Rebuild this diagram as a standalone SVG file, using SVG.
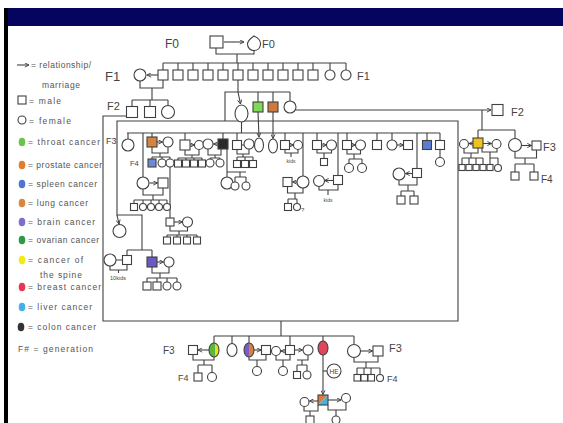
<svg xmlns="http://www.w3.org/2000/svg" width="563" height="423" viewBox="0 0 563 423">
<defs>
<style>
.ln{fill:none;stroke:#404040;stroke-width:1.1}
.ar{fill:none;stroke:#404040;stroke-width:1.1;marker-end:url(#ah)}
.p{fill:#fff;stroke:#404040;stroke-width:1.1}
.t{font-family:"Liberation Sans",Arial,sans-serif;fill:#444}
.lb{font-size:11px}
.lg{font-size:8.5px;fill:#555}
.sm{font-size:5px}
</style>
<marker id="ah" viewBox="0 0 6 6" refX="5.5" refY="3" markerWidth="5" markerHeight="5" orient="auto" markerUnits="userSpaceOnUse"><path d="M0.5,0.5 L5.5,3 L0.5,5.5" fill="none" stroke="#404040" stroke-width="1.1"/></marker>
<linearGradient id="gy" x1="0" x2="1" y1="0" y2="0"><stop offset="0.6" stop-color="#5cb83a"/><stop offset="0.6" stop-color="#e6e01e"/></linearGradient>
<linearGradient id="po" x1="0" x2="1" y1="0" y2="0"><stop offset="0.5" stop-color="#7b5cc0"/><stop offset="0.5" stop-color="#d88040"/></linearGradient>
</defs>
<rect width="563" height="423" fill="#fff"/>
<rect x="5" y="8" width="558" height="18" fill="#050560"/>
<rect x="4" y="8" width="4" height="415" fill="#000"/>

<g id="legend" class="t lg">
<path class="ar" d="M17,65 H29"/>
<text x="31" y="68" textLength="60">= relationship/</text>
<text x="42" y="88" textLength="38">marriage</text>
<rect class="p" x="18" y="96" width="8" height="8"/><text x="29" y="104" textLength="32">= male</text>
<circle class="p" cx="22" cy="120" r="4"/><text x="29" y="124" textLength="42">= female</text>
<ellipse cx="22" cy="142" rx="3.3" ry="4.3" fill="#6cc24a"/><text x="28" y="145" textLength="72">= throat cancer</text>
<ellipse cx="22" cy="165" rx="3.3" ry="4.3" fill="#e07c2e"/><text x="28" y="168" textLength="74">= prostate cancer</text>
<ellipse cx="22" cy="184" rx="3.3" ry="4.3" fill="#4d74d6"/><text x="28" y="187" textLength="69">= spleen cancer</text>
<ellipse cx="22" cy="203" rx="3.3" ry="4.3" fill="#d9853f"/><text x="28" y="206" textLength="60">= lung cancer</text>
<ellipse cx="22" cy="222" rx="3.3" ry="4.3" fill="#7a6ed0"/><text x="28" y="225" textLength="67">= brain cancer</text>
<ellipse cx="22" cy="240" rx="3.3" ry="4.3" fill="#2e9a48"/><text x="28" y="243" textLength="71">= ovarian cancer</text>
<ellipse cx="22" cy="260" rx="3.3" ry="4.3" fill="#f2ea12"/><text x="28" y="263" textLength="55">= cancer of</text>
<text x="40" y="278" textLength="42">the spine</text>
<ellipse cx="22" cy="287" rx="3.3" ry="4.3" fill="#e63950"/><text x="28" y="290" textLength="73">= breast cancer</text>
<ellipse cx="22" cy="307" rx="3.3" ry="4.3" fill="#45b0ea"/><text x="28" y="310" textLength="64">= liver cancer</text>
<ellipse cx="21" cy="327" rx="3.3" ry="4.3" fill="#333"/><text x="28" y="330" textLength="68">= colon cancer</text>
<text x="18" y="352" textLength="75">F# = generation</text>
</g>

<g id="labels" class="t lb">
<text x="165" y="48" font-size="12">F0</text>
<text x="262" y="48">F0</text>
<text x="105" y="81" font-size="13">F1</text>
<text x="357" y="80">F1</text>
<text x="107" y="110">F2</text>
<text x="511" y="116">F2</text>
<text x="106" y="144" font-size="9">F3</text>
<text x="130" y="166" font-size="7.5">F4</text>
<text x="543" y="151">F3</text>
<text x="541" y="183" font-size="10">F4</text>
<text x="163" y="354" font-size="10">F3</text>
<text x="178" y="381" font-size="9">F4</text>
<text x="389" y="352">F3</text>
<text x="387" y="382" font-size="9">F4</text>
<text x="291" y="163" class="sm" text-anchor="middle">kids</text>
<text x="328" y="202" class="sm" text-anchor="middle">kids</text>
<text x="118" y="280" font-size="5.5" text-anchor="middle">10kids</text>
<text x="301" y="212" font-size="6">?</text>
</g>

<g id="connectors">
<path class="ar" d="M224,42 H244"/>
<path class="ln" d="M216,48 V54 H254 V50 M237,54 V63 M163,63 H346 M163,63V70 M178,63V70 M193,63V70 M208,63V70 M223,63V70 M238,63V70 M253,63V70 M268,63V70 M283,63V70 M298,63V70 M313,63V70 M330,63V70 M346,63V70"/>
<path class="ar" d="M158,75 H147"/>
<path class="ln" d="M140,81 V88 H163 V80 M152,88 V100 M132,100 H168 M132,100 V106.5 M150,100 V106.5 M168,100 V105.5"/>
<path class="ln" d="M126.5,116 H103 V321 H458 V121 H117 V215 H142 V250 M225,121 V92 H290 M238,80 V92 M258,92 V102 M273,92 V102 M290,92 V101 M127,250 H152 M127,250 V255.5 M152,250 V257"/>
<path class="ar" d="M238,92 L240.5,104"/>
<path class="ar" d="M117,215 L119,224"/>
<path class="ln" d="M241.5,122 V133 M127,133 H440 M128,133V139 M143,133V177 M152,133V137 M185,133V140 M223,133V139 M237,133V140.5 M285,133V140.5 M303,133V176 M317,133V140.5 M338,133V175.5 M347,133V140.5 M377,133V140.5 M392,133V140 M417,133V168.5 M427,133V140.5 M440,133V140.5"/>
<path class="ar" d="M258,112 L259,137"/>
<path class="ar" d="M273,112 L273,138.5"/>
<path class="ar" d="M296,110 H491"/>
<path class="ln" d="M482,110 V130 M478,130 H515 M478,130 V138 M515,130 V138.5"/>
<path class="ar" d="M473,143.5 H469"/>
<path class="ar" d="M483,143.5 H491.5"/>
<path class="ln" d="M464,148.5 V153 H478 V148 M471,153 V158 M462,158 H483 M462,158V164.5 M469,158V164.5 M476,158V164.5 M483,158V164.5 M482,148 V152 H497 V148.5 M490,152 V158 H498 M490,158V164.5 M498,158V164.5"/>
<path class="ar" d="M521.5,145.5 H531.5"/>
<path class="ln" d="M515,151.5 V158 H536.5 V150 M525,158 V164 M515,164 H534 M515,164 V172 M534,164 V172"/>
<path class="ar" d="M149.5,183 H157.5"/>
<path class="ln" d="M143,189 V195 H163 V188 M153,195 V200 M134,200 H167 M134,200V203.5 M143,200V203.5 M151,200V203.5 M159,200V203.5 M167,200V203.5"/>
<path class="ar" d="M157,142 H162.5"/>
<path class="ln" d="M152,147 V153 H168 V147 M160,153 V157 M152,157 H170 M152,157V159 M162,157V159 M170,157V159 M170,167 V218"/>
<path class="ar" d="M174,222 H182.5"/>
<path class="ln" d="M170,226 V231 H187.5 V227 M179,231 V235 M167,235 H197 M167,235V237 M177,235V237 M187,235V237 M197,235V237"/>
<path class="ar" d="M190,145 H194.5"/>
<path class="ln" d="M185,150 V155 H199 V149.5 M192,155 V158 M178,158 H202 M178,158V160 M186,158V160 M194,158V160 M202,158V160"/>
<path class="ar" d="M218,144 H213.5"/>
<path class="ln" d="M208,149 V155 H221 V149 M215,155 V158 M210,158 H220 M210,158V159 M220,158V159 M227,149 V177 M227,172 H246 M240,172 V177 M235,177 H246 M235,177 V182 M246,177 V182"/>
<path class="ln" d="M241.5,145 H244 M237,149.5 V154 H249 V149 M243,154 V157 M237,157 H253 M237,157V160.5 M245,157V160.5 M253,157V160.5"/>
<path class="ar" d="M289.5,145 H293.5"/>
<path class="ln" d="M285,149.5 V153 H298 V149.5 M291,153 V157"/>
<path class="ar" d="M297,182 H292.5"/>
<path class="ln" d="M287.5,186.5 V193 H303 V188 M295,193 V199 M288,199 H297 M288,199 V203.5 M297,199 V203.5"/>
<path class="ar" d="M321.5,145 H326.5"/>
<path class="ln" d="M317,149.5 V153 H331.5 V150 M324,153 V158.5"/>
<path class="ar" d="M333.5,180.5 H324.5"/>
<path class="ln" d="M319,186.5 V190 H338 V184.5 M328,190 V195"/>
<path class="ar" d="M351.5,145 H355.5"/>
<path class="ln" d="M347,149.5 V154 H360.5 V150 M354,154 V159 M349,159 H362 M349,159 V163.5 M362,159 V163.5"/>
<path class="ar" d="M397,145 H403.5"/>
<path class="ar" d="M412.5,173.5 H405.5"/>
<path class="ln" d="M399,180 V185 H417 V177.5 M408,185 V191 M401,191 H414 M401,191 V196 M414,191 V196 M440,149.5 V157.5"/>
<path class="ln" d="M116,260 H122.5 M110,266 V270 H127 V264.5 M118.5,270 V273"/>
<path class="ar" d="M157,262 H163.5"/>
<path class="ln" d="M152,267 V273 H169 V267 M160,273 V278 M147,278 H177 M147,278V282 M157,278V282 M167,278V282 M177,278V282"/>
<path class="ln" d="M281,321 V336 M214,336 H354 M214,336V343 M232,336V343.5 M249,336V343 M290,336V345.5 M323,336V341 M354,336V344.5"/>
<path class="ar" d="M209,350 H198"/>
<path class="ar" d="M254,350 H261"/>
<path class="ar" d="M285.5,351 H281"/>
<path class="ar" d="M294.5,350 H302.5"/>
<path class="ar" d="M360.5,351 H372.5"/>
<path class="ln" d="M193,354.5 V360 H214 V357 M204,360 V365 M198,365 H212 M198,365V373 M212,365V372.5"/>
<path class="ln" d="M249,357 V360 H266 V354.5 M257,360 V366.5"/>
<path class="ln" d="M276,355.5 V360 H290 V354.5 M283,360 V366.5"/>
<path class="ln" d="M297,360 H308 V355 M302,360 V365 M297,365 H307 M297,365V371.5 M307,365V371"/>
<path class="ar" d="M323,355 V394.5"/>
<path class="ln" d="M323,371 H327"/>
<path class="ln" d="M354,357.5 V362 H378 V356 M366,362 V368 M357,368 H380 M357,368V374.5 M364,368V374.5 M371,368V374.5 M380,368V374.5"/>
<path class="ar" d="M318,401 H309.5"/>
<path class="ar" d="M328,400 H341"/>
<path class="ln" d="M304,406.5 V411 H318 V405 M310,411 V416 M328,405 V410 H346 V402.5 M336,410 V416"/>
</g>

<g id="F0">
<g id="f0-m"><rect class="p" x="210" y="36" width="13" height="12"/></g>
<g id="f0-f"><path class="p" d="M254,36 C258,38 261,41 260.5,44.5 C260,48.5 257,50.5 254,50.5 C250.5,50.5 247.5,48 247.5,44 C247.5,40.5 250.5,38.5 254,36 Z"/></g>
</g>

<g id="F1">
<g id="f1-sp"><circle class="p" cx="140" cy="75" r="6"/></g>
<g id="f1-1"><rect class="p" x="158" y="70" width="10" height="10"/></g>
<g id="f1-2"><rect class="p" x="173" y="70" width="10" height="10"/></g>
<g id="f1-3"><rect class="p" x="188" y="70" width="10" height="10"/></g>
<g id="f1-4"><rect class="p" x="203" y="70" width="10" height="10"/></g>
<g id="f1-5"><rect class="p" x="218" y="70" width="10" height="10"/></g>
<g id="f1-6"><rect class="p" x="233" y="70" width="10" height="10"/></g>
<g id="f1-7"><rect class="p" x="248" y="70" width="10" height="10"/></g>
<g id="f1-8"><rect class="p" x="263" y="70" width="10" height="10"/></g>
<g id="f1-9"><rect class="p" x="278" y="70" width="10" height="10"/></g>
<g id="f1-10"><rect class="p" x="293" y="70" width="10" height="10"/></g>
<g id="f1-11"><rect class="p" x="308" y="70" width="10" height="10"/></g>
<g id="f1-12"><circle class="p" cx="330" cy="75" r="5"/></g>
<g id="f1-13"><circle class="p" cx="346" cy="75" r="5"/></g>
</g>

<g id="F2">
<g id="f2-a"><rect class="p" x="126.5" y="106.5" width="11" height="11"/></g>
<g id="f2-b"><rect class="p" x="144.5" y="106.5" width="11" height="11"/></g>
<g id="f2-c"><circle class="p" cx="168" cy="112" r="6.5"/></g>
<g id="f2-oval"><ellipse class="p" cx="241.5" cy="113.5" rx="6.5" ry="8.5"/></g>
<g id="f2-green"><rect class="p" x="253" y="102" width="10" height="10" style="fill:#7ed957"/></g>
<g id="f2-orange"><rect class="p" x="268" y="102" width="10" height="10" style="fill:#cf7a3c"/></g>
<g id="f2-circle"><circle class="p" cx="290" cy="107" r="6"/></g>
<g id="f2-right"><rect class="p" x="492" y="104.5" width="11" height="11"/></g>
</g>

<g id="F3-right">
<g id="r-sp1"><circle class="p" cx="464" cy="144" r="4.5"/></g>
<g id="r-yellow"><rect class="p" x="473" y="138" width="10" height="10" style="fill:#efc21c"/></g>
<g id="r-sp2"><circle class="p" cx="496.5" cy="144" r="4.5"/></g>
<g id="r-k1"><rect class="p" x="459" y="164.5" width="6" height="6"/></g>
<g id="r-k2"><rect class="p" x="466" y="164.5" width="6" height="6"/></g>
<g id="r-k3"><rect class="p" x="473" y="164.5" width="6" height="6"/></g>
<g id="r-k4"><rect class="p" x="480" y="164.5" width="6" height="6"/></g>
<g id="r-k5"><rect class="p" x="487" y="164.5" width="6" height="6"/></g>
<g id="r-k6"><circle class="p" cx="498" cy="168" r="3.5"/></g>
<g id="r-c"><circle class="p" cx="515" cy="145" r="6.5"/></g>
<g id="r-m"><rect class="p" x="532" y="141" width="9" height="9"/></g>
<g id="r-c1"><rect class="p" x="511" y="172" width="8" height="8"/></g>
<g id="r-c2"><rect class="p" x="530" y="172" width="8" height="8"/></g>
</g>

<g id="F3-main">
<g id="a1"><circle class="p" cx="128" cy="145" r="6"/></g>
<g id="a2"><circle class="p" cx="143" cy="183" r="6"/></g>
<g id="a2s"><rect class="p" x="158" y="178" width="10" height="10"/></g>
<g id="a2k1"><rect class="p" x="130.5" y="203.5" width="7" height="7"/></g>
<g id="a2k2"><circle class="p" cx="143" cy="207" r="3.5"/></g>
<g id="a2k3"><circle class="p" cx="151" cy="207" r="3.5"/></g>
<g id="a2k4"><circle class="p" cx="159" cy="207" r="3.5"/></g>
<g id="a2k5"><circle class="p" cx="167" cy="207" r="3.5"/></g>
<g id="a3"><rect class="p" x="147" y="137" width="10" height="10" style="fill:#d4843e"/></g>
<g id="a3s"><circle class="p" cx="168" cy="142" r="5"/></g>
<g id="a3k1"><rect class="p" x="148" y="159" width="8" height="8" style="fill:#6d8ad8"/></g>
<g id="a3k2"><circle class="p" cx="162" cy="163" r="4"/></g>
<g id="a3k3"><circle class="p" cx="170" cy="163" r="4"/></g>
<g id="a3g"><rect class="p" x="166" y="218" width="8" height="8"/></g>
<g id="a3gs"><circle class="p" cx="187.5" cy="222" r="5"/></g>
<g id="a3gk1"><rect class="p" x="163.5" y="237" width="7" height="7"/></g>
<g id="a3gk2"><rect class="p" x="173.5" y="237" width="7" height="7"/></g>
<g id="a3gk3"><rect class="p" x="183.5" y="237" width="7" height="7"/></g>
<g id="a3gk4"><rect class="p" x="193.5" y="237" width="7" height="7"/></g>
<g id="a4"><rect class="p" x="180" y="140" width="10" height="10"/></g>
<g id="a4s"><circle class="p" cx="199" cy="145" r="4.5"/></g>
<g id="a4k1"><rect class="p" x="174.5" y="160" width="7" height="7"/></g>
<g id="a4k2"><rect class="p" x="182.5" y="160" width="7" height="7"/></g>
<g id="a4k3"><rect class="p" x="190.5" y="160" width="7" height="7"/></g>
<g id="a4k4"><rect class="p" x="198.5" y="160" width="7" height="7"/></g>
<g id="a5s"><circle class="p" cx="208" cy="144" r="5"/></g>
<g id="a5"><rect class="p" x="218" y="139" width="10" height="10" style="fill:#2a2a2a"/></g>
<g id="a5k1"><circle class="p" cx="210" cy="163" r="4"/></g>
<g id="a5k2"><circle class="p" cx="220" cy="163" r="4"/></g>
<g id="a5c"><circle class="p" cx="227" cy="183" r="6"/></g>
<g id="a5ck1"><circle class="p" cx="235" cy="186" r="4"/></g>
<g id="a5ck2"><circle class="p" cx="246" cy="186" r="4"/></g>
<g id="a6"><rect class="p" x="232.5" y="140.5" width="9" height="9"/></g>
<g id="a6s"><circle class="p" cx="249" cy="144" r="5"/></g>
<g id="a6k1"><rect class="p" x="233.5" y="160.5" width="7" height="7"/></g>
<g id="a6k2"><rect class="p" x="241.5" y="160.5" width="7" height="7"/></g>
<g id="a6k3"><rect class="p" x="249.5" y="160.5" width="7" height="7"/></g>
<g id="a7"><ellipse class="p" cx="259" cy="145" rx="4.5" ry="7"/></g>
<g id="a8"><ellipse class="p" cx="273" cy="146" rx="4.5" ry="7"/></g>
<g id="a9"><rect class="p" x="280.5" y="140.5" width="9" height="9"/></g>
<g id="a9s"><circle class="p" cx="298" cy="145" r="4.5"/></g>
<g id="a10"><circle class="p" cx="303" cy="182" r="6"/></g>
<g id="a10s"><rect class="p" x="283" y="177.5" width="9" height="9"/></g>
<g id="a10k1"><rect class="p" x="284.5" y="203.5" width="7" height="7"/></g>
<g id="a10k2"><circle class="p" cx="297" cy="207" r="3.5"/></g>
<g id="a11"><rect class="p" x="312.5" y="140.5" width="9" height="9"/></g>
<g id="a11s"><circle class="p" cx="331.5" cy="145" r="5"/></g>
<g id="a11k"><rect class="p" x="320.5" y="158.5" width="7" height="7"/></g>
<g id="a12"><rect class="p" x="333.5" y="175.5" width="9" height="9"/></g>
<g id="a12s"><circle class="p" cx="319" cy="181" r="5.5"/></g>
<g id="a13"><rect class="p" x="342.5" y="140.5" width="9" height="9"/></g>
<g id="a13s"><circle class="p" cx="360.5" cy="145" r="5"/></g>
<g id="a13k1"><circle class="p" cx="349" cy="168" r="4.5"/></g>
<g id="a13k2"><circle class="p" cx="362" cy="168" r="4.5"/></g>
<g id="a14"><rect class="p" x="372.5" y="140.5" width="9" height="9"/></g>
<g id="a15"><circle class="p" cx="392" cy="145" r="5"/></g>
<g id="a15s"><rect class="p" x="403.5" y="140.5" width="9" height="9"/></g>
<g id="a16"><rect class="p" x="412.5" y="168.5" width="9" height="9"/></g>
<g id="a16s"><circle class="p" cx="399" cy="174" r="6"/></g>
<g id="a16k1"><rect class="p" x="397" y="196" width="8" height="8"/></g>
<g id="a16k2"><rect class="p" x="410" y="196" width="8" height="8"/></g>
<g id="a17"><rect class="p" x="422.5" y="140.5" width="9" height="9" style="fill:#5b7bd4"/></g>
<g id="a18"><rect class="p" x="435.5" y="140.5" width="9" height="9"/></g>
<g id="a18k"><circle class="p" cx="440" cy="162" r="4.5"/></g>
</g>

<g id="F3-left">
<g id="b1"><circle class="p" cx="119.5" cy="231" r="6.5"/></g>
<g id="b2s"><circle class="p" cx="110" cy="260" r="6"/></g>
<g id="b2"><rect class="p" x="122.5" y="255.5" width="9" height="9"/></g>
<g id="b3"><rect class="p" x="147" y="257" width="10" height="10" style="fill:#6a5ac4"/></g>
<g id="b3s"><circle class="p" cx="169" cy="262" r="5"/></g>
<g id="b3k1"><rect class="p" x="143" y="282" width="8" height="8"/></g>
<g id="b3k2"><rect class="p" x="153" y="282" width="8" height="8"/></g>
<g id="b3k3"><circle class="p" cx="167" cy="286" r="4"/></g>
<g id="b3k4"><circle class="p" cx="177" cy="286" r="4"/></g>
</g>

<g id="F3-bottom">
<g id="c1"><rect class="p" x="188.5" y="345.5" width="9" height="9"/></g>
<g id="c2"><ellipse class="p" cx="214" cy="350" rx="5" ry="7" style="fill:url(#gy)"/></g>
<g id="c3"><ellipse class="p" cx="232" cy="350" rx="5" ry="6.5"/></g>
<g id="c4"><ellipse class="p" cx="249" cy="350" rx="5" ry="7" style="fill:url(#po)"/></g>
<g id="c4s"><rect class="p" x="261.5" y="345.5" width="9" height="9"/></g>
<g id="c5s"><circle class="p" cx="276" cy="351" r="4.5"/></g>
<g id="c5"><rect class="p" x="285.5" y="345.5" width="9" height="9"/></g>
<g id="c5s2"><circle class="p" cx="308" cy="350" r="5"/></g>
<g id="c6"><ellipse class="p" cx="323" cy="348" rx="5" ry="7" style="fill:#e0455a"/></g>
<g id="c7"><circle class="p" cx="354" cy="351" r="6.5"/></g>
<g id="c7s"><rect class="p" x="373" y="346" width="10" height="10"/></g>
<g id="c1k1"><rect class="p" x="194" y="373" width="8" height="8"/></g>
<g id="c1k2"><circle class="p" cx="212" cy="377" r="4.5"/></g>
<g id="c4k"><circle class="p" cx="257" cy="371" r="4.5"/></g>
<g id="c5k"><circle class="p" cx="283" cy="371" r="4.5"/></g>
<g id="c5k1"><rect class="p" x="293.5" y="371.5" width="7" height="7"/></g>
<g id="c5k2"><circle class="p" cx="307" cy="375" r="4"/></g>
<g id="he"><circle class="p" cx="334" cy="371" r="7"/><text class="t" x="334" y="373.5" font-size="6.5" text-anchor="middle">HE</text></g>
<g id="c6k"><polygon points="318,395 328,395 318,405" fill="#e07a3a"/><polygon points="328,395 328,405 318,405" fill="#4ab0e0"/><rect x="318" y="395" width="10" height="10" fill="none" stroke="#404040" stroke-width="1.1"/></g>
<g id="c6ks1"><circle class="p" cx="304.5" cy="402" r="4.5"/></g>
<g id="c6ks2"><circle class="p" cx="346" cy="398" r="4.5"/></g>
<g id="c6kk1"><rect class="p" x="306" y="416" width="8" height="8"/></g>
<g id="c6kk2"><circle class="p" cx="336" cy="420" r="4"/></g>
<g id="c7k1"><rect class="p" x="354" y="374.5" width="6.5" height="6.5"/></g>
<g id="c7k2"><rect class="p" x="361" y="374.5" width="6.5" height="6.5"/></g>
<g id="c7k3"><rect class="p" x="368" y="374.5" width="6.5" height="6.5"/></g>
<g id="c7k4"><circle class="p" cx="380" cy="378" r="3.5"/></g>
</g>
</svg>
